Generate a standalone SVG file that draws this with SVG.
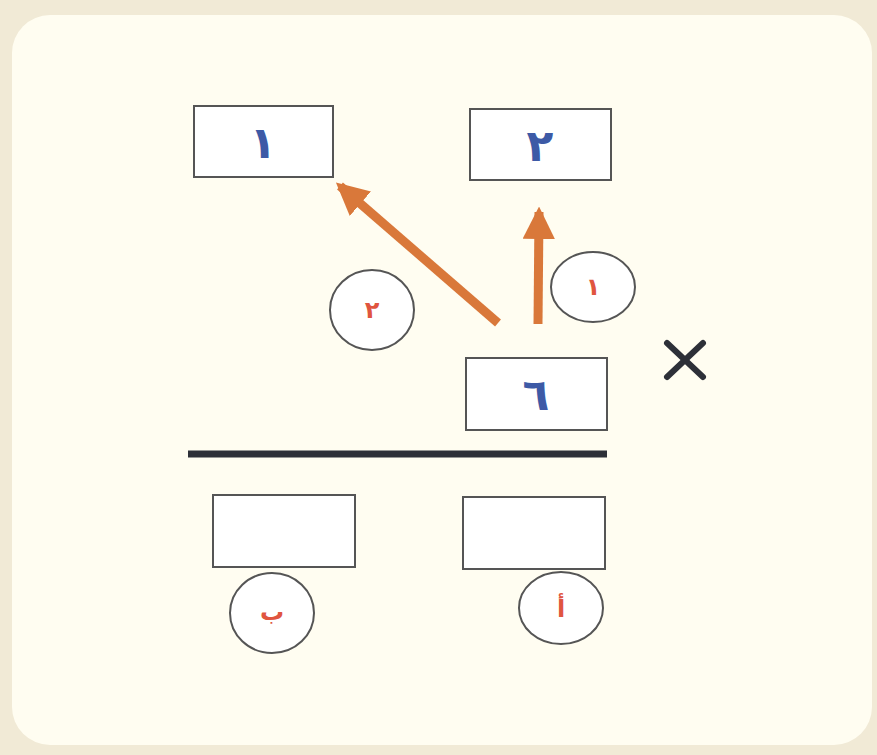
<svg xmlns="http://www.w3.org/2000/svg" width="877" height="755" viewBox="0 0 877 755">
<style>
.box{fill:#ffffff;stroke:#555555;stroke-width:2}
.circ{fill:#ffffff;stroke:#555555;stroke-width:2}
.num{font-family:"DejaVu Sans",sans-serif;font-size:44px;fill:#3d5aa6;text-anchor:middle;font-weight:bold}
.lbl{font-family:"DejaVu Sans",sans-serif;font-size:24px;fill:#e0553f;text-anchor:middle;font-weight:bold}
.arr{stroke:#d9783a;stroke-width:9;fill:none}
</style>
<defs>
<marker id="ah" markerWidth="3.6" markerHeight="3.6" refX="3" refY="1.8" orient="auto" markerUnits="strokeWidth">
<path d="M0,0 L3.6,1.8 L0,3.6 Z" fill="#d9783a"/>
</marker>
</defs>
<rect width="877" height="755" fill="#f1ead6"/>
<rect x="12" y="15" width="860" height="730" rx="38" fill="#fffdf1"/>
<g id="box1"><rect class="box" x="194" y="106" width="139" height="71"/><text class="num" x="263" y="158">١</text></g>
<g id="box2"><rect class="box" x="470" y="109" width="141" height="71"/><text class="num" x="540" y="161">٢</text></g>
<g id="box6"><rect class="box" x="466" y="358" width="141" height="72"/><text class="num" x="536" y="410">٦</text></g>
<g id="boxA"><rect class="box" x="463" y="497" width="142" height="72"/></g>
<g id="boxB"><rect class="box" x="213" y="495" width="142" height="72"/></g>
<g id="circ2"><ellipse class="circ" cx="372" cy="310" rx="42" ry="40"/><text class="lbl" x="372" y="318">٢</text></g>
<g id="circ1"><ellipse class="circ" cx="593" cy="287" rx="42" ry="35"/><text class="lbl" x="593" y="295">١</text></g>
<g id="circB"><ellipse class="circ" cx="272" cy="613" rx="42" ry="40"/><text class="lbl" x="272" y="620">ب</text></g>
<g id="circA"><ellipse class="circ" cx="561" cy="608" rx="42" ry="36"/><text class="lbl" x="561" y="617">أ</text></g>
<g id="connectors">
<line class="arr" x1="498" y1="323" x2="340" y2="186" marker-end="url(#ah)"/>
<line class="arr" x1="538" y1="324" x2="539" y2="212" marker-end="url(#ah)"/>
</g>
<line x1="188" y1="454" x2="607" y2="454" stroke="#2d3038" stroke-width="7"/>
<g id="times" stroke="#2d3038" stroke-width="6" stroke-linecap="round">
<line x1="667" y1="343" x2="703" y2="377"/>
<line x1="703" y1="343" x2="667" y2="377"/>
</g>
</svg>
